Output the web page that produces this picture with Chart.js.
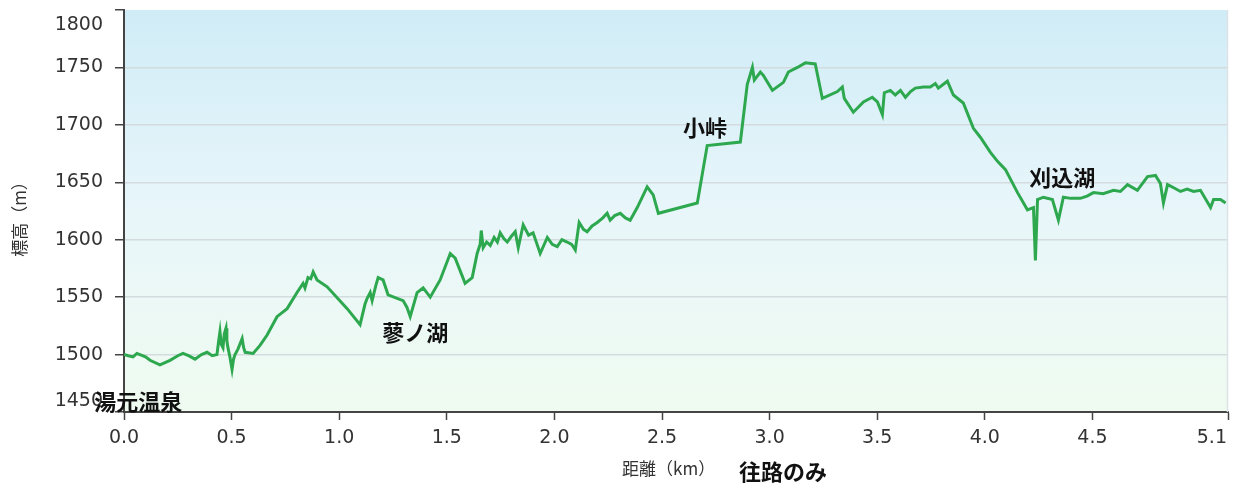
<!DOCTYPE html>
<html><head><meta charset="utf-8">
<script src="https://cdn.jsdelivr.net/npm/chart.js@4/dist/chart.umd.min.js"></script>
<style>html,body{margin:0;padding:0;background:#fff}#wrap{width:1242px;height:489px;position:relative}</style>
</head><body><div id="wrap"><canvas id="c" width="1242" height="489"></canvas></div>
<script>
const distanceKm = [0.00,0.020,0.042,0.060,0.074,0.100,0.121,0.167,0.214,0.250,0.274,0.300,0.330,0.360,0.386,0.410,0.432,0.440,0.446,0.452,0.460,0.466,0.474,0.478,0.483,0.492,0.502,0.509,0.516,0.530,0.549,0.556,0.563,0.600,0.632,0.665,0.711,0.758,0.804,0.832,0.841,0.855,0.868,0.879,0.897,0.944,1.037,1.097,1.120,1.130,1.144,1.153,1.170,1.181,1.204,1.227,1.269,1.297,1.315,1.330,1.362,1.390,1.423,1.469,1.516,1.539,1.585,1.618,1.641,1.655,1.660,1.669,1.685,1.702,1.720,1.735,1.748,1.765,1.781,1.800,1.818,1.832,1.855,1.880,1.901,1.934,1.967,1.990,2.013,2.035,2.059,2.080,2.097,2.115,2.135,2.152,2.175,2.199,2.225,2.245,2.259,2.280,2.306,2.330,2.352,2.385,2.431,2.459,2.483,2.664,2.710,2.864,2.896,2.920,2.929,2.957,2.971,3.013,3.064,3.087,3.129,3.166,3.212,3.245,3.315,3.338,3.347,3.389,3.436,3.477,3.501,3.524,3.533,3.561,3.584,3.608,3.631,3.655,3.677,3.715,3.747,3.770,3.784,3.826,3.854,3.900,3.947,3.980,4.026,4.060,4.096,4.152,4.198,4.226,4.235,4.245,4.272,4.314,4.342,4.365,4.400,4.444,4.475,4.505,4.550,4.598,4.630,4.663,4.709,4.756,4.793,4.816,4.830,4.849,4.880,4.909,4.940,4.970,5.002,5.049,5.063,5.095,5.119];
const elevationM = [1500,1499,1498,1501,1500,1498,1495,1491,1495,1499,1501,1499,1496,1500,1502,1499,1500,1512,1520,1509,1506,1518,1523,1512,1506,1498,1487,1496,1500,1505,1514,1506,1502,1501,1508,1517,1533,1540,1554,1562,1558,1567,1566,1572,1565,1559,1540,1526,1544,1549,1554,1547,1560,1567,1565,1552,1549,1547,1541,1533,1554,1558,1550,1565,1588,1584,1562,1567,1588,1596,1608,1593,1598,1595,1602,1598,1606,1601,1598,1603,1607,1593,1613,1604,1606,1588,1602,1596,1594,1600,1598,1596,1591,1615,1609,1607,1612,1615,1619,1623,1617,1621,1623,1619,1617,1628,1646,1639,1623,1632,1682,1685,1735,1750,1739,1746,1743,1730,1737,1746,1750,1754,1753,1723,1729,1733,1723,1711,1720,1724,1720,1709,1728,1730,1726,1730,1724,1729,1732,1733,1733,1736,1732,1738,1726,1719,1697,1689,1676,1668,1661,1641,1626,1628,1582,1635,1637,1635,1617,1637,1636,1636,1638,1641,1640,1643,1642,1648,1643,1655,1656,1649,1632,1648,1645,1642,1644,1642,1643,1628,1635,1635,1632];
const xTickValues = [0,0.5,1.0,1.5,2.0,2.5,3.0,3.5,4.0,4.5,5.13];
const yTickValues = [1450,1500,1550,1600,1650,1700,1750,1800];
const placeNames = ['湯元温泉','蓼ノ湖','小峠','刈込湖'];
const placeKm = [0.066,1.353,2.70,4.36];
const placeElev = [1459,1519,1698,1654];
const xTitle = '距離（km）';
const yTitle = '標高（m）';
const noteText = '往路のみ';

const CJK = '"Noto Sans CJK JP", "DejaVu Sans", sans-serif';
const NUM = '"DejaVu Sans", sans-serif';

const decor = {
  id: 'decor',
  beforeDraw(chart) {
    const {ctx, chartArea: a} = chart;
    const g = ctx.createLinearGradient(0, a.top, 0, a.bottom);
    g.addColorStop(0, '#d0ecf7');
    g.addColorStop(0.5, '#e8f6fa');
    g.addColorStop(1, '#effbf0');
    ctx.save();
    ctx.fillStyle = g;
    ctx.fillRect(a.left, a.top, a.right - a.left, a.bottom - a.top);
    ctx.restore();
  },
  afterDraw(chart) {
    const {ctx, chartArea: a, scales} = chart;
    const ys = scales.y, xs = scales.x;
    ctx.save();
    ctx.strokeStyle = '#dce3e6';
    ctx.lineWidth = 1.5;
    ctx.beginPath(); ctx.moveTo(a.right - 0.5, a.top); ctx.lineTo(a.right - 0.5, a.bottom); ctx.stroke();
    ctx.fillStyle = '#333';
    ctx.font = '19px ' + NUM;
    ctx.textAlign = 'right';
    ctx.textBaseline = 'middle';
    yTickValues.forEach(v => {
      let p = ys.getPixelForValue(v);
      if (v === ys.max) p += 15;
      if (v === ys.min) p -= 11;
      ctx.fillText(String(v), a.left - 21, p);
    });
    xTickValues.forEach((v, i) => {
      const p = xs.getPixelForValue(v);
      if (i === xTickValues.length - 1) { ctx.textAlign = 'right'; ctx.fillText(v.toFixed(1), p - 1, 438); }
      else { ctx.textAlign = 'center'; ctx.fillText(v.toFixed(1), p, 438); }
    });
    ctx.fillStyle = '#111';
    ctx.font = 'bold 22px ' + CJK;
    ctx.textAlign = 'center';
    placeNames.forEach((n, i) => {
      ctx.fillText(n, xs.getPixelForValue(placeKm[i]), ys.getPixelForValue(placeElev[i]));
    });
    ctx.fillStyle = '#333';
    ctx.font = '17px ' + CJK;
    ctx.textAlign = 'left';
    ctx.fillText(xTitle, 622, 469);
    ctx.fillStyle = '#111';
    ctx.font = 'bold 22px ' + CJK;
    ctx.fillText(noteText, 739, 472);
    ctx.translate(20, (a.top + a.bottom) / 2 + 4);
    ctx.rotate(-Math.PI / 2);
    ctx.fillStyle = '#333';
    ctx.font = '17px ' + CJK;
    ctx.textAlign = 'center';
    ctx.fillText(yTitle, 0, 0);
    ctx.restore();
  }
};

new Chart(document.getElementById('c'), {
  type: 'line',
  data: {
    datasets: [{
      data: distanceKm.map((d, i) => ({x: d, y: elevationM[i]})),
      borderColor: '#2ea84f',
      borderWidth: 3,
      pointRadius: 0,
      tension: 0,
      fill: false
    }]
  },
  options: {
    responsive: false,
    animation: false,
    events: [],
    layout: {padding: {top: 10, right: 14, left: 0, bottom: 0}},
    plugins: {legend: {display: false}, tooltip: {enabled: false}},
    scales: {
      x: {
        type: 'linear', min: 0, max: 5.13,
        afterBuildTicks: s => { s.ticks = xTickValues.map(v => ({value: v})); },
        afterFit: s => { s.height = 77; s.paddingLeft = 0; s.paddingRight = 0; },
        ticks: {display: false},
        grid: {drawOnChartArea: false, drawTicks: true, tickLength: 8, tickColor: '#444', tickWidth: 1.5},
        border: {color: '#444', width: 2}
      },
      y: {
        type: 'linear', min: 1450, max: 1800,
        afterBuildTicks: s => { s.ticks = yTickValues.map(v => ({value: v})); },
        afterFit: s => { s.width = 124; s.paddingTop = 0; s.paddingBottom = 0; },
        ticks: {display: false},
        grid: {
          color: c => (c.tick && (c.tick.value === 1800 || c.tick.value === 1450)) ? 'rgba(0,0,0,0)' : '#d3dbdf',
          lineWidth: 1.5, drawTicks: true, tickLength: 9, tickColor: '#444', tickWidth: 1.5
        },
        border: {color: '#444', width: 2}
      }
    }
  },
  plugins: [decor]
});
</script></body></html>
